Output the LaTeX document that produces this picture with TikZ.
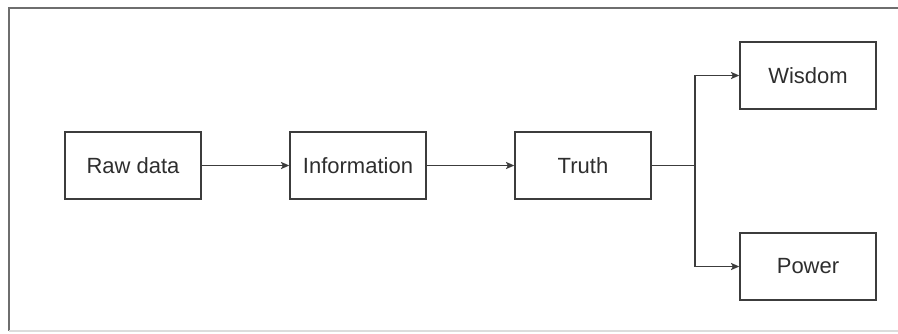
\documentclass[tikz,border=0pt]{standalone}
\usepackage{fontspec}
\setmainfont{Liberation Sans}
\usepackage{tikz}
\usetikzlibrary{arrows.meta}
\definecolor{boxline}{HTML}{3C3C3C}
\definecolor{textgrey}{HTML}{2E2E2E}
\definecolor{framegrey}{HTML}{6E6E6E}
\definecolor{framelight}{HTML}{DCDCDC}
\tikzstyle{box} = [rectangle, minimum width=68pt, minimum height=33.5pt, text centered, draw=boxline, line width=0.7pt, text=textgrey, font=\fontsize{11}{13}\selectfont]
\tikzstyle{arrow} = [line width=0.7pt, draw=boxline, ->, >={Stealth[length=4.2pt, width=3.6pt, inset=1pt]}]

\begin{document}
\begin{tikzpicture}[node distance=112.5pt]
	\useasboundingbox (-66.5pt,-83.75pt) rectangle (382.5pt,82.75pt);
	% frame of the screenshot
	\draw [framegrey, line width=1pt] (383pt,79pt) -| (-61.75pt,-82.75pt);
	\draw [framelight, line width=0.6pt] (-61.75pt,-82.75pt) -- (383pt,-82.75pt);

	\node (raw) [box] {Raw data};
	\node (info) [box, right of=raw] {Information};
	\node (truth) [box, right of=info] {Truth};
	\node (wisdom) [box, right of=truth, yshift=45pt] {Wisdom};
	\node (power) [box, right of=truth, yshift=-50.5pt] {Power};
	\coordinate (split) at ([xshift=56pt]truth.center);

	\draw [arrow] (raw) -- (info);
	\draw [arrow] (info) -- (truth);
	\draw [arrow] (truth) -- (split) |- (wisdom);
	\draw [arrow] (split) |- (power);
\end{tikzpicture}
\end{document}
